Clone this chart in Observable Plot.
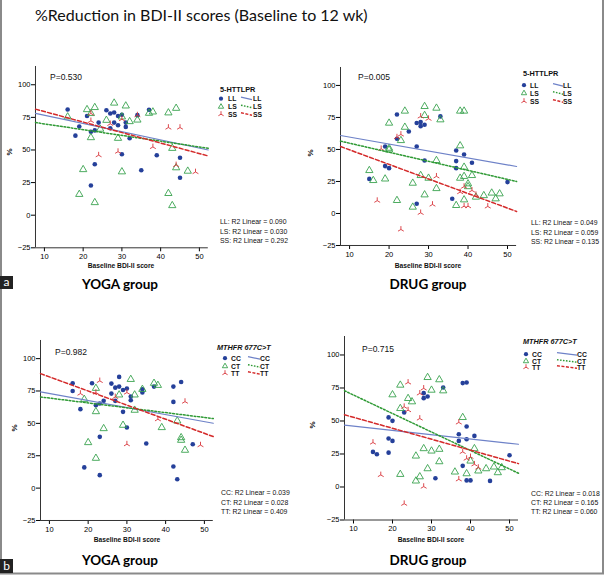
<!DOCTYPE html>
<html><head><meta charset="utf-8">
<script src="https://cdn.jsdelivr.net/npm/d3@7"></script>
<script src="https://cdn.jsdelivr.net/npm/@observablehq/plot@0.6"></script>
<style>
body{margin:0;background:#fff;}
#fig{position:relative;width:605px;height:575px;overflow:hidden;background:#fff;}
</style></head><body><div id="fig"></div>
<script>
// ---------- data ----------
const xTicks = [10, 20, 30, 40, 50];
const yTicks = [-25, 0, 25, 50, 75, 100];
const xDomain = [7.7, 52.3];
const yDomain = [-25, 114];

const mainTitle = "%Reduction in BDI-II scores (Baseline to 12 wk)";
const xLabel = "Baseline BDI-II score";
const yLabel = "%";

// 5-HTTLPR, YOGA group
const yogaHtt_LL = [[16,81],[19,68],[18,61],[21,76],[22,64],[23,65],[24,71],[26,80.5],[27,78],[28,78.7],[29,76],[30,77],[28,71],[27,66.7],[29,69],[31,71],[31,67.7],[34,76.7],[32,59],[37,80.8],[30,46.7],[23,39],[22,22.8],[35,34.4],[39,46],[45,44],[45,28.7]];
const yogaHtt_LS = [[16,75.4],[21,81],[23,82.6],[22,59.5],[20,35],[19,16],[23,9.7],[24.4,66],[26,72.8],[28,86],[29,59],[30,75.4],[31,83.8],[32,71.8],[34,73],[37,78.2],[38,79.2],[30,33.3],[42,78.5],[44,82],[43,51.3],[44,36.4],[47,33.8],[42,16.7],[43,7.4],[22,78]];
const yogaHtt_SS = [[22,78],[22,72.3],[24,46],[27,70],[29,48.7],[30,73.6],[34,76.7],[38,52.3],[42,67.2],[45,67.2],[44,38.5],[49,33.1]];
const yogaHtt_fit = {LL:[78,50], LS:[71,51.3], SS:[81.3,45.4]};
const yogaHtt_P = "P=0.530";
const yogaHtt_R2 = ["LL: R2 Linear = 0.090","LS: R2 Linear = 0.030","SS: R2 Linear = 0.292"];

// 5-HTTLPR, DRUG group
const drugHtt_LL = [[15,27],[19,52.3],[19,37],[20,35.4],[22,77.3],[22,58.3],[25,64],[27,70.6],[28,71.4],[28,68.2],[29,69.3],[33,75.8],[27,52.3],[29,41.4],[37,49.2],[37,40.9],[37,35.4],[39,46.1],[41,39.6],[36,11.5],[27,7.6],[50,24.5]];
const drugHtt_LS = [[15,33.6],[16,25.8],[19,27],[20,70.6],[20,51],[20,49.7],[24,80],[24,67.4],[23,57],[26,23.7],[26,5],[28,29.7],[29,83.6],[29,76.6],[29,14.6],[30,27.6],[32,82.3],[33,73.2],[32,41.4],[32,19.5],[38,80],[39,80],[38,52.9],[38,27.6],[39,36.2],[39,29],[40,23.2],[40,21],[41,29.7],[37,6.3],[39,10.7],[42,12.8],[44,14],[46,16],[47,11.5],[48,15.4],[22,10.2]];
const drugHtt_SS = [[18,50.5],[17,10],[22,59.6],[23,61.7],[23,-12.5],[28,75.8],[30,74],[28,0.5],[31,7],[32,29],[38,16.7],[39,21],[41,18],[42,14.6],[39,5.7],[40,5.7],[45,5.5]];
const drugHtt_fit = {LL:[60.9,36.7], LS:[56.5,25], SS:[52.3,1.6]};
const drugHtt_P = "P=0.005";
const drugHtt_R2 = ["LL: R2 Linear = 0.049","LS: R2 Linear = 0.059","SS: R2 Linear = 0.135"];

// MTHFR 677C>T, YOGA group
const yogaMth_CC = [[16,81],[16,75],[18,61],[21,81],[22,64],[23,65.3],[24,67.4],[26,80.7],[26,73],[27,77.6],[27,67.4],[28,85.9],[28,78.4],[29,75.8],[30,76.9],[31,70.7],[31,67.9],[29,58.9],[30,46.8],[23,39.6],[19,16],[23,10],[34,76.3],[34,73.8],[35,34.4],[37,78.4],[42,78.4],[42,66.6],[44,82],[42,16.7],[43,6.9],[47,33.9]];
const yogaMth_CT = [[19,68.6],[22,77.1],[22,59.1],[24,46],[20,35.2],[22,23.1],[28,72],[31,84],[32,72],[29,48.6],[32,60.2],[34,76.3],[37,81],[38,79.4],[39,46.8],[43,51.9],[44,39],[44,37],[45,29.3]];
const yogaMth_TT = [[18,73],[23,82.8],[22,73.8],[27,70.4],[30,73.8],[30,33.9],[38,53.2],[45,66.8],[49,33.2]];
const yogaMth_fit = {CC:[74.3,50.1], CT:[70.4,53.7], TT:[88.4,39.8]};
const yogaMth_P = "P=0.982";
const yogaMth_R2 = ["CC: R2 Linear = 0.039","CT: R2 Linear = 0.028","TT: R2 Linear = 0.409"];

// MTHFR 677C>T, DRUG group
const drugMth_CC = [[15,26.6],[16,24.8],[19,52.7],[19,36.7],[19,26],[20,50.1],[20,34.9],[23,56.5],[28,71.1],[28,67.3],[29,68.6],[33,75.4],[31,6.6],[37,40],[37,34.9],[39,45.8],[39,36.2],[41,38.7],[38,16],[39,79.2],[38,78.7],[39,5],[40,5],[45,4.6],[50,24]];
const drugMth_CT = [[20,69.9],[22,77.2],[22,59.5],[22,9.6],[24,67.1],[25,64.6],[26,23.5],[26,4.6],[27,7.8],[28,29.1],[29,83],[30,73.4],[30,27.3],[32,28.6],[32,81.3],[33,72.9],[32,19.2],[29,13.9],[36,11.4],[38,52.7],[39,10.1],[40,19.7],[41,29.1],[42,12.2],[44,13.9],[46,15.2],[47,10.9],[48,14.7]];
const drugMth_TT = [[15,33.7],[17,9.1],[23,60.8],[24,58.2],[24,79.2],[27,70.9],[27,51.9],[28,74.7],[28,0.3],[23,-12.7],[37,48.9],[37,5.8],[38,26.6],[39,21.5],[40,22.8],[41,17.2],[42,14.7]];
const drugMth_fit = {CC:[46.8,32.4], CT:[72.9,10.4], TT:[54.7,17.7]};
const drugMth_P = "P=0.715";
const drugMth_R2 = ["CC: R2 Linear = 0.018","CT: R2 Linear = 0.165","TT: R2 Linear = 0.060"];

// ---------- styles ----------
const COL = {dot:"#25409a", tri:"#3aa34f", star:"#d8343a", lineB:"#6e82c8", lineG:"#2f9a35", lineR:"#d42a2a"};
const TICKFONT = "'Liberation Sans', Arial, sans-serif";
const TITLEFONT = "Lato, 'Open Sans', sans-serif";

const triStar = {draw(ctx, size){
  const a = Math.sqrt(size / Math.PI) * 1.2;
  ctx.moveTo(0,0); ctx.lineTo(0,-a);
  ctx.moveTo(0,0); ctx.lineTo(-a*0.866, a*0.5);
  ctx.moveTo(0,0); ctx.lineTo(a*0.866, a*0.5);
}};

const fig = document.getElementById("fig");

const panels = [
  {names:["LL","LS","SS"], pts:[yogaHtt_LL,yogaHtt_LS,yogaHtt_SS], fit:yogaHtt_fit, P:yogaHtt_P, R2:yogaHtt_R2,
   gene:"5-HTTLPR", italic:false, group:"YOGA group", frame:[35.1,207.9,65.7,247],
   pPos:[50,80], leg:{x:220,y:92,rows:[101,109,116.5],mx:221,lx:228,l1:241,l2:252,ll:253},
   r2:{x:220,y:[224,233.5,243]}, yl:[12,152], xl:[121,268], gt:[120,289]},
  {names:["LL","LS","SS"], pts:[drugHtt_LL,drugHtt_LS,drugHtt_SS], fit:drugHtt_fit, P:drugHtt_P, R2:drugHtt_R2,
   gene:"5-HTTLPR", italic:false, group:"DRUG group", frame:[339.9,516,67,245],
   pPos:[358,80], leg:{x:523,y:76,rows:[87.5,95.5,103.5],mx:524,lx:530,l1:553,l2:563,ll:563},
   r2:{x:531,y:[225,234.5,244]}, yl:[313,153], xl:[428,268], gt:[428,289]},
  {names:["CC","CT","TT"], pts:[yogaMth_CC,yogaMth_CT,yogaMth_TT], fit:yogaMth_fit, P:yogaMth_P, R2:yogaMth_R2,
   gene:"MTHFR 677C>T", italic:true, group:"YOGA group", frame:[40.1,212.9,340,520],
   pPos:[55,355], leg:{x:217,y:350,rows:[360.5,368.5,375.5],mx:225,lx:231,l1:248,l2:260,ll:260},
   r2:{x:221,y:[495,504.5,514]}, yl:[17,428], xl:[127,542], gt:[120,565]},
  {names:["CC","CT","TT"], pts:[drugMth_CC,drugMth_CT,drugMth_TT], fit:drugMth_fit, P:drugMth_P, R2:drugMth_R2,
   gene:"MTHFR 677C>T", italic:true, group:"DRUG group", frame:[344,518,335.5,519],
   pPos:[362,352], leg:{x:523,y:344,rows:[356.5,363.5,369.5],mx:526,lx:532,l1:557,l2:577,ll:577},
   r2:{x:531,y:[496,505,514]}, yl:[315,425], xl:[431,542], gt:[428,565]}
];

function makePanel(p){
  const ML=45, MT=5, MR=5, MB=30;
  const fw = p.frame[1]-p.frame[0], fh = p.frame[3]-p.frame[2];
  const toObj = arr => arr.map(([x,y]) => ({x, y}));
  const fitData = p.names.map(n => [{x:xDomain[0], y:p.fit[n][0]}, {x:xDomain[1], y:p.fit[n][1]}]);
  const chart = Plot.plot({
    width: ML+fw+MR, height: MT+fh+MB,
    marginLeft: ML, marginTop: MT, marginRight: MR, marginBottom: MB,
    x: {domain: xDomain}, y: {domain: yDomain},
    style: {fontFamily: TICKFONT, fontSize: "7.5px", color: "#000", background: "transparent", overflow: "visible"},
    marks: [
      Plot.axisX({ticks: xTicks, tickSize: 4, tickPadding: 2, label: null}),
      Plot.axisY({ticks: yTicks, tickSize: 4, tickPadding: 1, label: null}),
      Plot.ruleX([xDomain[0]], {stroke: "#333"}),
      Plot.ruleY([yDomain[0]], {stroke: "#333"}),
      Plot.dot(toObj(p.pts[0]), {x:"x", y:"y", r:2.3, fill: COL.dot, stroke: "none"}),
      Plot.dot(toObj(p.pts[1]), {x:"x", y:"y", r:2.7, symbol:"triangle", fill:"none", stroke: COL.tri, strokeWidth: 0.9}),
      Plot.dot(toObj(p.pts[2]), {x:"x", y:"y", r:2.8, symbol: triStar, fill:"none", stroke: COL.star, strokeWidth: 0.9}),
      Plot.line(fitData[0], {x:"x", y:"y", stroke: COL.lineB, strokeWidth: 1.2}),
      Plot.line(fitData[1], {x:"x", y:"y", stroke: COL.lineG, strokeWidth: 1.5, strokeDasharray: "1.8,1.8"}),
      Plot.line(fitData[2], {x:"x", y:"y", stroke: COL.lineR, strokeWidth: 1.5, strokeDasharray: "4,2.2"})
    ]
  });
  chart.style.position = "absolute";
  chart.style.left = (p.frame[0]-ML) + "px";
  chart.style.top = (p.frame[2]-MT) + "px";
  fig.appendChild(chart);
}
panels.forEach(makePanel);

// ---------- overlay: titles, legends, annotations ----------
const ov = d3.select(fig).append("svg")
  .attr("width", 605).attr("height", 575)
  .style("position","absolute").style("left","0px").style("top","0px");

ov.append("path").attr("d","M1,0V573.5H603V0").attr("fill","none").attr("stroke","#8a8a8a").attr("stroke-width",2);

ov.append("text").attr("x",35).attr("y",21).text(mainTitle)
  .attr("font-family",TITLEFONT).attr("font-size",16).attr("fill","#111");

[["a",276,289],["b",559,573]].forEach(([t,y0,y1]) => {
  ov.append("rect").attr("x",0).attr("y",y0).attr("width",13).attr("height",y1-y0).attr("fill","#222");
  ov.append("text").attr("x",6.5).attr("y",y1-3).attr("text-anchor","middle").text(t)
    .attr("font-family",TITLEFONT).attr("font-size",12).attr("fill","#fff");
});

const legSym = [
  (g,x,y) => g.append("circle").attr("cx",x).attr("cy",y).attr("r",2.1).attr("fill",COL.dot),
  (g,x,y) => g.append("path").attr("d", d3.symbol(d3.symbolTriangle2, 20)()).attr("transform",`translate(${x},${y})`).attr("fill","none").attr("stroke",COL.tri).attr("stroke-width",0.9),
  (g,x,y) => g.append("path").attr("d", d3.symbol(triStar, 20)()).attr("transform",`translate(${x},${y})`).attr("fill","none").attr("stroke",COL.star).attr("stroke-width",0.9)
];
const legLine = [[COL.lineB,1.2,null],[COL.lineG,1.4,"1.6,1.4"],[COL.lineR,1.4,"3,1.5"]];

panels.forEach(p => {
  const g = ov.append("g").attr("font-family", TICKFONT).attr("fill","#111");
  g.append("text").attr("x",p.pPos[0]).attr("y",p.pPos[1]).attr("font-size",8.5).text(p.P);
  g.append("text").attr("x",p.leg.x).attr("y",p.leg.y).attr("font-size",7.3).attr("font-weight","bold")
    .attr("font-style", p.italic ? "italic" : "normal").text(p.gene);
  p.names.forEach((n,i) => {
    const cy = p.leg.rows[i]-2.3;
    legSym[i](g, p.leg.mx, cy);
    g.append("text").attr("x",p.leg.lx).attr("y",p.leg.rows[i]).attr("font-size",6.8).attr("font-weight","bold").text(n);
    const [c,w,da] = legLine[i];
    g.append("line").attr("x1",p.leg.l1).attr("x2",p.leg.l2).attr("y1",cy-1.5).attr("y2",cy+1)
      .attr("stroke",c).attr("stroke-width",w).attr("stroke-dasharray",da);
    g.append("text").attr("x",p.leg.ll).attr("y",p.leg.rows[i]).attr("font-size",6.8).attr("font-weight","bold").text(n);
  });
  p.R2.forEach((t,i) => g.append("text").attr("x",p.r2.x).attr("y",p.r2.y[i]).attr("font-size",6.9).text(t));
  g.append("text").attr("transform",`translate(${p.yl[0]},${p.yl[1]}) rotate(-90)`).attr("text-anchor","middle")
    .attr("font-size",8).attr("font-weight","bold").text(yLabel);
  g.append("text").attr("x",p.xl[0]).attr("y",p.xl[1]).attr("text-anchor","middle")
    .attr("font-size",6.7).attr("font-weight","bold").text(xLabel);
  g.append("text").attr("x",p.gt[0]).attr("y",p.gt[1]).attr("text-anchor","middle")
    .attr("font-family",TITLEFONT).attr("font-size",13.5).attr("font-weight","bold").attr("fill","#000").text(p.group);
});
</script>
</body></html>
